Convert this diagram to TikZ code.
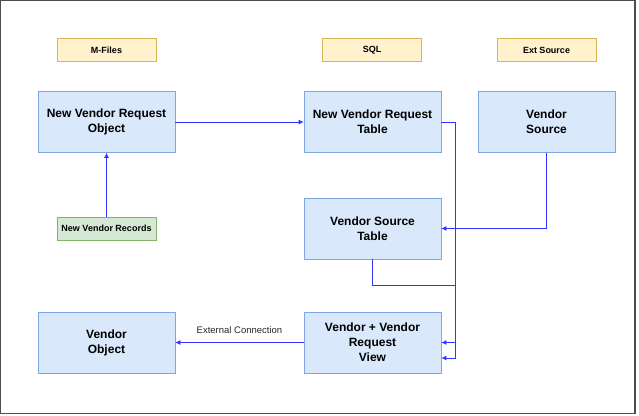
\documentclass[tikz,border=0pt]{standalone}
\usepackage{fontspec}
\setmainfont{Liberation Sans}
\usetikzlibrary{arrows.meta}
\definecolor{bfill}{HTML}{DAE8FC}
\definecolor{bline}{HTML}{7EA6E0}
\definecolor{yfill}{HTML}{FFF2CC}
\definecolor{yline}{HTML}{D6B656}
\definecolor{gfill}{HTML}{D5E8D4}
\definecolor{gline}{HTML}{82B366}
\definecolor{conn}{HTML}{3333FF}
\definecolor{frame}{HTML}{4D4D4D}
\begin{document}
\begin{tikzpicture}[x=1pt,y=-1pt,
  bigbox/.style={draw=bline,fill=bfill,line width=0.8pt,minimum width=137pt,minimum height=61pt,
    inner sep=0pt,align=center,font=\fontsize{12}{15}\selectfont\bfseries},
  headbox/.style={draw=yline,fill=yfill,line width=0.8pt,minimum width=99pt,minimum height=23pt,
    inner sep=0pt,font=\fontsize{9}{11}\selectfont\bfseries},
  recbox/.style={draw=gline,fill=gfill,line width=0.8pt,minimum width=99pt,minimum height=23pt,
    inner sep=0pt,font=\fontsize{9}{11}\selectfont\bfseries},
  link/.style={draw=conn,line width=0.8pt,-{Latex[length=5pt,width=5pt]}},
  plain/.style={draw=conn,line width=0.8pt}]
\useasboundingbox (0,0) rectangle (639,415);
\draw[frame,line width=1.2pt] (0.8,0.8) rectangle (635,413.5);

\node[headbox] (mf) at (106.5,50) {M-Files};
\node[headbox] (sql) at (372,50) {SQL};
\node[headbox] (ext) at (546.5,50) {Ext Source};

\node[bigbox] (nvro) at (106.5,122) {New Vendor Request\\Object};
\node[bigbox] (nvrt) at (372.5,122) {New Vendor Request\\Table};
\node[bigbox] (vs) at (546.5,122) {Vendor\\Source};
\node[bigbox] (vst) at (372.5,228.5) {Vendor Source\\Table};
\node[bigbox] (view) at (372.5,342.5) {Vendor + Vendor\\Request\\View};
\node[bigbox] (vo) at (106.5,342.5) {Vendor\\Object};
\node[recbox] (rec) at (106.5,228.5) {New Vendor Records};

\coordinate (j1) at (455.7,122);
\coordinate (j2) at (455.7,285);

\draw[link] (nvro.east) -- (nvrt.west);
\draw[link] (rec.north) -- (nvro.south);
\draw[link] (nvrt.east) -- (j1) |- ([yshift=-15.5pt]view.east);
\draw[link] (vs.south) |- (vst.east);
\draw[link] (vst.south) |- (j2) |- (view.east);
\draw[link] (view.west) -- node[above=5pt,font=\fontsize{9.5}{11}\selectfont,text=black!85] {External Connection} (vo.east);
\end{tikzpicture}
\end{document}
